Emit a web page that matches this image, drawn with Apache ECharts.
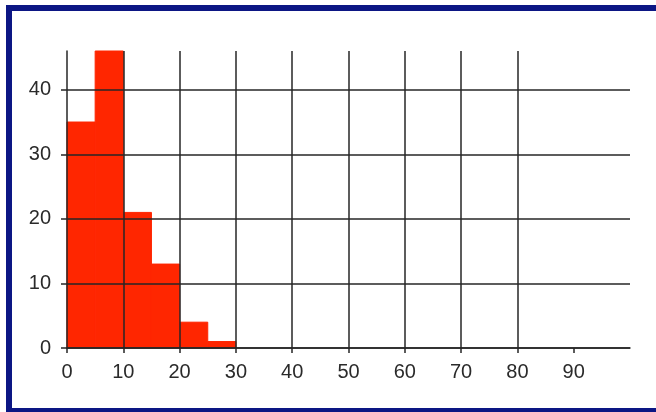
<!DOCTYPE html>
<html>
<head>
<meta charset="utf-8">
<script src="https://cdn.jsdelivr.net/npm/echarts@6/dist/echarts.min.js"></script>
<style>
html,body{margin:0;padding:0;background:#fff;overflow:hidden;}
#chart{position:absolute;left:0;top:0;width:656px;height:412px;}
#frame{position:absolute;left:6px;top:5px;width:700px;height:397px;border:6px solid #0c1684;pointer-events:none;}
</style>
</head>
<body>
<div id="chart"></div>
<div id="frame"></div>
<script>
// Histogram bins (start, end) and counts
const binStarts = [0, 5, 10, 15, 20, 25];
const binEnds   = [5, 10, 15, 20, 25, 30];
const counts    = [35, 46, 21, 13, 4, 1];
const xTicks = [0, 10, 20, 30, 40, 50, 60, 70, 80, 90];
const yTicks = [0, 10, 20, 30, 40];

const data = binStarts.map((s, i) => [s, binEnds[i], counts[i]]);
const lineColor = '#262626';
const barColor = '#ff2600';
const labelFont = {color: '#2a2a2a', fontSize: 20, fontFamily: 'Liberation Sans, Arial, sans-serif'};

const chart = echarts.init(document.getElementById('chart'), null, {renderer: 'canvas'});
chart.setOption({
  animation: false,
  grid: {left: 67, right: 26, top: 51, bottom: 64},
  xAxis: {
    type: 'value', min: 0, max: 100, interval: 10,
    axisLine: {show: true, onZero: false, lineStyle: {color: lineColor, width: 1.5}},
    axisTick: {show: true, length: 5, customValues: xTicks, lineStyle: {color: lineColor, width: 1.5}},
    axisLabel: Object.assign({customValues: xTicks, margin: 14}, labelFont),
    splitLine: {show: true, showMinLine: false, showMaxLine: false, lineStyle: {color: lineColor, width: 1.5}}
  },
  yAxis: {
    type: 'value', min: 0, max: 46, interval: 10,
    axisLine: {show: true, lineStyle: {color: lineColor, width: 1.5}},
    axisTick: {show: true, length: 6, customValues: yTicks, lineStyle: {color: lineColor, width: 1.5}},
    axisLabel: Object.assign({customValues: yTicks, margin: 16}, labelFont),
    splitLine: {show: true, lineStyle: {color: lineColor, width: 1.5}}
  },
  series: [{
    type: 'custom',
    z: -1,
    clip: false,
    data: data,
    encode: {x: [0, 1], y: 2},
    renderItem: function (params, api) {
      const p0 = api.coord([api.value(0), api.value(2)]);
      const p1 = api.coord([api.value(1), 0]);
      return {
        type: 'rect',
        shape: {x: p0[0], y: p0[1], width: p1[0] - p0[0], height: p1[1] - p0[1]},
        style: {fill: barColor, stroke: barColor, lineWidth: 1}
      };
    }
  }]
});
</script>
</body>
</html>
